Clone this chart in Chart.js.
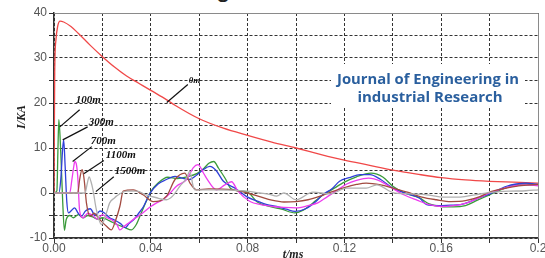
<!DOCTYPE html>
<html>
<head>
<meta charset="utf-8">
<script src="https://cdn.jsdelivr.net/npm/chart.js@4/dist/chart.umd.min.js"></script>
<style>
  html, body { margin: 0; padding: 0; background: #fff; }
  #wrap { position: relative; width: 545px; height: 258px; overflow: hidden; }
  #cut { position: absolute; left: 216px; top: -25px; font: 26px "Liberation Sans", Arial, sans-serif; line-height: 26px; color: #222; }
  canvas { position: absolute; left: 0; top: 0; }
</style>
</head>
<body>
<div id="wrap">
  <span id="cut">g</span>
  <canvas id="chart" width="545" height="258"></canvas>
</div>
<script>
// series names (distance to strike point)
const seriesNames = ['0m', '100m', '300m', '700m', '1100m', '1500m'];

// 0m - red
const t0m = [0, 0.0003, 0.0008, 0.0015, 0.0025, 0.004, 0.007, 0.01, 0.015, 0.02, 0.025, 0.03, 0.035, 0.04, 0.0466, 0.05, 0.06, 0.07, 0.08, 0.09, 0.1, 0.11, 0.12, 0.13, 0.14, 0.15, 0.16, 0.17, 0.18, 0.19, 0.2];
const i0m = [0, 27, 34, 37, 38.2, 38, 37, 35.5, 32.8, 30.3, 28, 26, 24.4, 22.8, 20.7, 19.5, 16.5, 14.4, 12.8, 11.3, 10, 8.6, 7.3, 6.2, 5.1, 4.2, 3.4, 2.9, 2.6, 2.4, 2.2];

// 100m - green
const t100m = [0, 0.0012, 0.0016, 0.002, 0.0028, 0.0036, 0.0043, 0.005, 0.0065, 0.008, 0.010, 0.012, 0.014, 0.016, 0.018, 0.020, 0.023, 0.026, 0.029, 0.032, 0.034, 0.036, 0.038, 0.040, 0.043, 0.047, 0.051, 0.055, 0.059, 0.062, 0.064, 0.066, 0.068, 0.071, 0.073, 0.076, 0.080, 0.084, 0.089, 0.094, 0.0995, 0.103, 0.107, 0.111, 0.115, 0.120, 0.125, 0.131, 0.136, 0.140, 0.145, 0.151, 0.155, 0.160, 0.165, 0.170, 0.175, 0.180, 0.185, 0.190, 0.195, 0.200];
const i100m = [0, 0.5, 9, 16.3, 9, -2, -8.3, -6, -5, -5.5, -4.8, -5.5, -5, -5.3, -5.8, -5.5, -6.2, -7, -7.6, -8.2, -7, -4.5, -2, 0.3, 2.2, 3.5, 3.2, 3.6, 4.3, 5.5, 6.6, 7, 5.5, 3, 1, 0.5, 0.2, -2, -3, -3.6, -4.4, -3.8, -2.2, -0.5, 0.8, 2.4, 3.6, 4.4, 3.5, 1.5, 0, -1.1, -2.4, -3, -3.1, -2.8, -1.6, -0.4, 0.8, 1.7, 2, 1.8];

// 300m - blue
const t300m = [0, 0.002, 0.0028, 0.0036, 0.004, 0.0046, 0.0053, 0.006, 0.007, 0.0085, 0.010, 0.0113, 0.013, 0.015, 0.017, 0.019, 0.021, 0.023, 0.025, 0.0275, 0.0295, 0.031, 0.033, 0.035, 0.037, 0.0395, 0.043, 0.0465, 0.050, 0.053, 0.056, 0.059, 0.0617, 0.0644, 0.067, 0.070, 0.075, 0.0796, 0.084, 0.088, 0.092, 0.096, 0.0996, 0.104, 0.108, 0.111, 0.115, 0.118, 0.122, 0.1265, 0.1306, 0.135, 0.14, 0.146, 0.151, 0.154, 0.159, 0.164, 0.168, 0.172, 0.176, 0.18, 0.184, 0.187, 0.191, 0.195, 0.2];
const i300m = [0, 0, 3, 10, 11.8, 6, -2, -4.4, -4, -3.3, -4.5, -5.2, -4, -3.5, -5, -4, -4.5, -5.5, -6, -6.8, -7.7, -6.8, -5.9, -4.5, -3, -0.2, 2, 3, 3.7, 3.3, 3, 4, 5.2, 5.9, 5, 2.6, 1, -0.8, -1.8, -2.6, -3, -3.6, -4.1, -3.5, -2, -0.4, 1, 2.6, 3.4, 4.1, 4.1, 3, 1.1, -0.2, -1.1, -2.6, -2.8, -2.7, -2.6, -1.9, -1, -0.2, 0.8, 1.5, 2, 2.2, 1.9];

// 700m - magenta
const t700m = [0, 0.0065, 0.0074, 0.0082, 0.0086, 0.0092, 0.0098, 0.0106, 0.012, 0.014, 0.016, 0.018, 0.020, 0.022, 0.024, 0.026, 0.0272, 0.029, 0.031, 0.033, 0.0368, 0.040, 0.0424, 0.045, 0.048, 0.0506, 0.0548, 0.0575, 0.0595, 0.0617, 0.063, 0.0672, 0.0706, 0.0734, 0.076, 0.081, 0.0855, 0.0906, 0.095, 0.1, 0.105, 0.109, 0.113, 0.117, 0.121, 0.125, 0.13, 0.135, 0.14, 0.145, 0.15, 0.155, 0.16, 0.165, 0.17, 0.175, 0.18, 0.185, 0.19, 0.195, 0.2];
const i700m = [0, 0, 3, 6, 7, 6.5, 3.7, -4, -5.5, -4.5, -5, -5.8, -4.8, -5.5, -6, -7, -8.2, -7.4, -6.6, -5.8, -4.4, -3, -2.2, -1.5, 0, 1.5, 3, 5.6, 6.3, 4.5, 3.3, 0.7, 1.8, 2.5, 0.4, -1.9, -2.6, -3, -3.2, -3.3, -2.8, -2.2, -0.8, 0.6, 2, 2.8, 3.3, 2.6, 1, -0.5, -1.6, -2.6, -3, -2.8, -2.3, -1.2, 0, 0.9, 1.6, 1.8, 1.6];

// 1100m - brown
const t1100m = [0, 0.0098, 0.0106, 0.0116, 0.0122, 0.0127, 0.0134, 0.015, 0.0165, 0.0189, 0.0217, 0.0237, 0.0255, 0.0272, 0.0286, 0.0327, 0.0368, 0.041, 0.0465, 0.050, 0.054, 0.0562, 0.0589, 0.064, 0.0738, 0.080, 0.085, 0.09, 0.095, 0.1, 0.105, 0.11, 0.115, 0.12, 0.125, 0.129, 0.135, 0.14, 0.146, 0.152, 0.158, 0.164, 0.17, 0.176, 0.18, 0.186, 0.192, 0.2];
const i1100m = [0, 0, 3, 5.2, 4, 1.8, -2.2, -5.2, -4.5, -5.9, -7.4, -8.2, -6, -3, 0.4, 0.7, -0.4, -1.9, -0.7, 3, 4.4, 2.2, 0.7, 0.9, 0.7, 0, -0.8, -1.6, -2, -1.9, -1.5, -0.7, 0.3, 1.2, 1.9, 2.2, 1.8, 1.1, 0.2, -0.9, -1.5, -1.9, -1.7, -0.8, 0.2, 1, 1.6, 1.9];

// 1500m - gray
const t1500m = [0, 0.0128, 0.0137, 0.0145, 0.0153, 0.0161, 0.0175, 0.0196, 0.0217, 0.023, 0.025, 0.0258, 0.03, 0.0343, 0.038, 0.042, 0.0465, 0.049, 0.052, 0.0548, 0.0561, 0.0575, 0.0582, 0.0658, 0.08, 0.085, 0.089, 0.092, 0.095, 0.1, 0.107, 0.114, 0.121, 0.129, 0.1334, 0.14, 0.147, 0.154, 0.161, 0.168, 0.174, 0.18, 0.188, 0.195, 0.2];
const i1500m = [0, 0, 2, 3.6, 2.5, 0.7, -3.7, -7, -4.4, -2.2, -1.1, -0.7, 0.4, 0.4, -0.4, -1, -1.5, -0.7, 1.5, 3.3, 4.8, 1.5, 0.7, 0.7, 0.4, 0, -0.3, -0.7, 0, -1.5, 0.2, -0.2, 1.1, 1.1, 1.8, 0.1, -0.2, -0.4, -0.9, -0.9, -0.4, 0.1, 0.4, 0.5, 0.7];

// axis ticks
const xTickLabels = ['0.00', '0.04', '0.08', '0.12', '0.16', '0.2'];
const yTickLabels = ['-10', '0', '10', '20', '30', '40'];

// curve labels with leader lines (in data units: t, I)
const labelText  = ['0m', '100m', '300m', '700m', '1100m', '1500m'];
const labelAt    = [[0.0557, 24.5], [0.0090, 20.1], [0.0144, 15.2], [0.0152, 11.0], [0.0214, 7.8], [0.0251, 4.3]];
const leaderFrom = [[0.0553, 24.1], [0.0106, 18.5], [0.0139, 14.7], [0.0156, 10.3], [0.0206, 7.2], [0.0247, 3.6]];
const leaderTo   = [[0.0466, 20.1], [0.0024, 14.7], [0.0036, 11.8], [0.0077, 7.0], [0.0123, 4.3], [0.0173, 0.3]];

const colors = ['#f04848', '#3a9a3a', '#2f3fd8', '#ee3cee', '#a24a40', '#b0b0b0'];
const times = [t0m, t100m, t300m, t700m, t1100m, t1500m];
const values = [i0m, i100m, i300m, i700m, i1100m, i1500m];

function toPoints(ts, vs) {
    return ts.map((t, k) => ({ x: t, y: vs[k] }));
}

// draw order: gray first, red last
const datasets = [];
for (let s = seriesNames.length - 1; s >= 0; s--) {
    datasets.push({
        label: seriesNames[s],
        data: toPoints(times[s], values[s]),
        borderColor: colors[s],
        borderWidth: 1.3,
        pointRadius: 0,
        fill: false,
        cubicInterpolationMode: 'monotone'
    });
}

const serifLabel = 'italic bold 11px "Liberation Serif", "Times New Roman", serif';

const decorPlugin = {
    id: 'decor',
    afterDatasetsDraw(chart) {
        const ctx = chart.ctx;
        const xs = chart.scales.x, ys = chart.scales.y;
        const area = chart.chartArea;

        // frame top / right
        ctx.save();
        ctx.strokeStyle = '#8a8a8a';
        ctx.lineWidth = 1;
        ctx.beginPath();
        ctx.moveTo(area.left, area.top + 0.5);
        ctx.lineTo(area.right + 0.5, area.top + 0.5);
        ctx.lineTo(area.right + 0.5, area.bottom);
        ctx.stroke();
        ctx.restore();

        // curve labels with leader lines
        ctx.save();
        ctx.strokeStyle = '#111';
        ctx.lineWidth = 1.2;
        ctx.fillStyle = '#111';
        ctx.textBaseline = 'alphabetic';
        for (let k = 0; k < labelText.length; k++) {
            ctx.beginPath();
            ctx.moveTo(xs.getPixelForValue(leaderFrom[k][0]), ys.getPixelForValue(leaderFrom[k][1]));
            ctx.lineTo(xs.getPixelForValue(leaderTo[k][0]), ys.getPixelForValue(leaderTo[k][1]));
            ctx.stroke();
            ctx.font = k === 0 ? 'italic bold 9px "Liberation Serif", serif' : serifLabel;
            ctx.fillText(labelText[k], xs.getPixelForValue(labelAt[k][0]), ys.getPixelForValue(labelAt[k][1]));
        }
        ctx.restore();

        // watermark
        ctx.save();
        ctx.fillStyle = '#fff';
        ctx.fillRect(331, 64, 194, 44);
        ctx.fillStyle = '#2a5f9e';
        ctx.font = 'bold 15px "Open Sans", "Noto Sans", sans-serif';
        ctx.textAlign = 'center';
        ctx.fillText('Journal of Engineering in', 428, 84, 182);
        ctx.fillText('industrial Research', 430, 102, 155);
        ctx.restore();

        // axis titles
        ctx.save();
        ctx.fillStyle = '#222';
        ctx.font = 'italic bold 12px "Liberation Serif", "Times New Roman", serif';
        ctx.textAlign = 'center';
        ctx.textBaseline = 'middle';
        ctx.fillText('t/ms', 293, 255);
        ctx.translate(22, 117);
        ctx.rotate(-Math.PI / 2);
        ctx.fillText('I/KA', 0, 0);
        ctx.restore();
    }
};

const tickFont = { family: '"Liberation Sans", Arial, sans-serif', size: 12 };

new Chart(document.getElementById('chart'), {
    type: 'line',
    data: { datasets: datasets },
    options: {
        responsive: false,
        animation: false,
        events: [],
        layout: { padding: { left: 0, right: 7, top: 13, bottom: 0 } },
        plugins: { legend: { display: false }, tooltip: { enabled: false } },
        scales: {
            x: {
                type: 'linear',
                min: 0,
                max: 0.2,
                afterBuildTicks(scale) {
                    scale.ticks = [];
                    for (let k = 0; k <= 10; k++) scale.ticks.push({ value: k * 0.02 });
                },
                afterFit(scale) {
                    scale.height = 20;
                    scale.paddingLeft = 0; scale.paddingRight = 0;
                },
                ticks: {
                    autoSkip: false,
                    maxRotation: 0,
                    padding: -2,
                    color: '#555',
                    font: tickFont,
                    callback: (v, idx) => idx % 2 === 0 ? xTickLabels[idx / 2] : ''
                },
                grid: { color: '#333', lineWidth: 1, tickLength: 5, tickColor: '#333' },
                border: { color: '#333', width: 1.5, dash: [3, 2] }
            },
            y: {
                type: 'linear',
                min: -10,
                max: 40,
                afterBuildTicks(scale) {
                    scale.ticks = [];
                    for (let k = 0; k <= 10; k++) scale.ticks.push({ value: -10 + k * 5 });
                },
                afterFit(scale) {
                    scale.width = 54;
                    scale.paddingTop = 0; scale.paddingBottom = 0;
                },
                ticks: {
                    autoSkip: false,
                    padding: 2,
                    color: '#555',
                    font: tickFont,
                    callback: (v, idx) => idx % 2 === 0 ? yTickLabels[idx / 2] : ''
                },
                grid: { color: '#333', lineWidth: 1, tickLength: 5, tickColor: '#333' },
                border: { color: '#333', width: 1.5, dash: [3, 2] }
            }
        }
    },
    plugins: [decorPlugin]
});
</script>
</body>
</html>
